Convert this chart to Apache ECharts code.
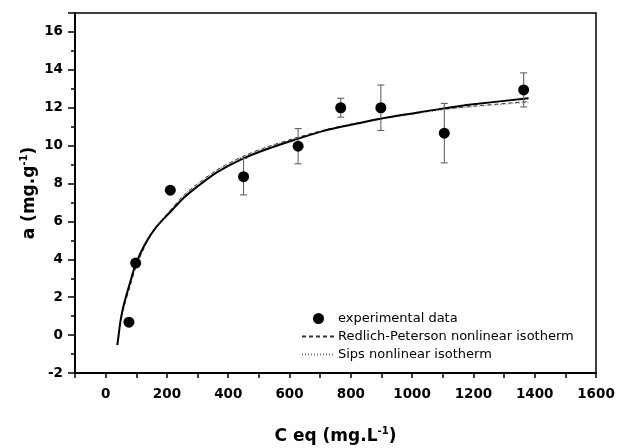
<!DOCTYPE html>
<html>
<head>
<meta charset="utf-8">
<script src="https://cdn.jsdelivr.net/npm/echarts@6/dist/echarts.min.js"></script>
<style>
  html, body { margin: 0; padding: 0; background: #fff; }
  #chart { width: 617px; height: 448px; }
</style>
</head>
<body>
<div id="chart"></div>
<script>
// experimental points
var cEq = [76, 98, 211, 450, 628, 767, 898, 1105, 1364];
var aExp = [0.68, 3.8, 7.65, 8.36, 9.97, 12.0, 12.0, 10.66, 12.94];
var aErr = [0, 0, 0, 0.96, 0.93, 0.5, 1.2, 1.57, 0.9];

// fitted curves
var solidX = [38, 42, 49, 60, 82, 98, 130, 165, 217, 255, 300, 364, 446, 527, 615, 712, 800, 897, 1000, 1092, 1200, 1380];
var solidY = [-0.53, -0.05, 0.8, 1.65, 2.9, 3.75, 4.85, 5.7, 6.6, 7.25, 7.85, 8.6, 9.3, 9.82, 10.3, 10.78, 11.1, 11.42, 11.7, 11.94, 12.18, 12.5];
var rpX = [50, 60, 82, 98, 130, 165, 217, 255, 300, 364, 446, 527, 615, 712, 800, 897, 1000, 1092, 1200, 1380];
var rpY = [0.9, 1.5, 2.7, 3.55, 4.75, 5.7, 6.7, 7.38, 7.98, 8.72, 9.42, 9.93, 10.38, 10.82, 11.13, 11.43, 11.68, 11.9, 12.08, 12.33];
var sipsX = [50, 60, 82, 98, 130, 165, 217, 255, 300, 364, 446, 527, 615, 712, 800, 897, 1000, 1092, 1200, 1380];
var sipsY = [0.95, 1.55, 2.72, 3.57, 4.75, 5.72, 6.72, 7.4, 8.0, 8.72, 9.4, 9.9, 10.35, 10.78, 11.1, 11.4, 11.65, 11.87, 12.05, 12.28];

var legendNames = ['experimental data', 'Redlich-Peterson nonlinear isotherm', 'Sips nonlinear isotherm'];

function pairs(xs, ys) {
    return xs.map(function (x, i) { return [x, ys[i]]; });
}

var errData = [];
cEq.forEach(function (x, i) {
    if (aErr[i] > 0) errData.push([x, aExp[i] - aErr[i], aExp[i] + aErr[i]]);
});

function renderErr(params, api) {
    var x = api.value(0);
    var lo = api.coord([x, api.value(1)]);
    var hi = api.coord([x, api.value(2)]);
    var w = 3.5;
    var st = { stroke: '#555', lineWidth: 1 };
    return {
        type: 'group',
        children: [
            { type: 'line', shape: { x1: lo[0], y1: lo[1], x2: hi[0], y2: hi[1] }, style: st },
            { type: 'line', shape: { x1: lo[0] - w, y1: lo[1], x2: lo[0] + w, y2: lo[1] }, style: st },
            { type: 'line', shape: { x1: hi[0] - w, y1: hi[1], x2: hi[0] + w, y2: hi[1] }, style: st }
        ]
    };
}

var font = 'DejaVu Sans';
var nameRich = {
    b: { fontFamily: font, fontSize: 17, fontWeight: 'bold', color: '#000', lineHeight: 22 },
    s: { fontFamily: font, fontSize: 10, fontWeight: 'bold', color: '#000', verticalAlign: 'top', lineHeight: 10 }
};

var myChart = echarts.init(document.getElementById('chart'));
var option = {
    animation: false,
    backgroundColor: '#fff',
    grid: {
        left: 75, top: 13, right: 21, bottom: 75,
        outerBoundsMode: 'none',
        containLabel: false,
        show: true, borderColor: '#000', borderWidth: 1.5
    },
    legend: {
        data: [
            { name: legendNames[0] },
            { name: legendNames[1], itemStyle: { opacity: 0 } },
            { name: legendNames[2], itemStyle: { opacity: 0 } }
        ],
        orient: 'vertical',
        left: 296,
        top: 307,
        itemWidth: 33,
        itemHeight: 11,
        itemGap: 5,
        textStyle: { fontFamily: font, fontSize: 13, color: '#000', padding: [0, 0, 0, -2] }
    },
    xAxis: {
        type: 'value',
        min: -100,
        max: 1600,
        interval: 100,
        name: '{b|C eq (mg.L}{s|-1}{b|)}',
        nameLocation: 'middle',
        nameGap: 53,
        nameMoveOverlap: false,
        nameTextStyle: { rich: nameRich },
        splitLine: { show: false },
        axisLine: { onZero: false, lineStyle: { color: '#000', width: 2 } },
        axisTick: { length: 5, lineStyle: { color: '#000', width: 1.5 } },
        axisLabel: {
            margin: 14,
            fontFamily: font, fontSize: 13.5, fontWeight: 'bold', color: '#000',
            formatter: function (v) { return v % 200 === 0 ? v : ''; }
        }
    },
    yAxis: {
        type: 'value',
        min: -2,
        max: 17,
        interval: 2,
        name: '{b|a (mg.g}{s|-1}{b|)}',
        nameLocation: 'middle',
        nameGap: 34,
        nameMoveOverlap: false,
        nameTextStyle: { rich: nameRich },
        splitLine: { show: false },
        axisLine: { onZero: false, lineStyle: { color: '#000', width: 2 } },
        axisTick: { length: 7, lineStyle: { color: '#000', width: 1.5 } },
        minorTick: { show: true, splitNumber: 2, length: 4, lineStyle: { color: '#000', width: 1.5 } },
        axisLabel: {
            margin: 12, showMaxLabel: false,
            fontFamily: font, fontSize: 13.5, fontWeight: 'bold', color: '#000'
        }
    },
    series: [
        {
            name: 'fit',
            type: 'line',
            data: pairs(solidX, solidY),
            smooth: 0.3,
            symbol: 'none',
            lineStyle: { color: '#000', width: 2 },
            z: 3
        },
        {
            name: legendNames[1],
            type: 'line',
            data: pairs(rpX, rpY),
            smooth: 0.3,
            symbol: 'none',
            itemStyle: { color: '#333' },
            lineStyle: { color: '#333', width: 1, type: [4, 3] },
            z: 2
        },
        {
            name: legendNames[2],
            type: 'line',
            data: pairs(sipsX, sipsY),
            smooth: 0.3,
            symbol: 'none',
            itemStyle: { color: '#777' },
            lineStyle: { color: '#777', width: 1, type: [1, 2] },
            z: 2
        },
        {
            name: 'err',
            type: 'custom',
            renderItem: renderErr,
            data: errData,
            encode: { x: 0, y: [1, 2] },
            z: 4
        },
        {
            name: legendNames[0],
            type: 'scatter',
            data: pairs(cEq, aExp),
            symbol: 'circle',
            symbolSize: 11,
            itemStyle: { color: '#000', opacity: 1 },
            z: 5
        }
    ]
};
option && myChart.setOption(option);
window.addEventListener('resize', function () {
    myChart.resize();
});
</script>
</body>
</html>
